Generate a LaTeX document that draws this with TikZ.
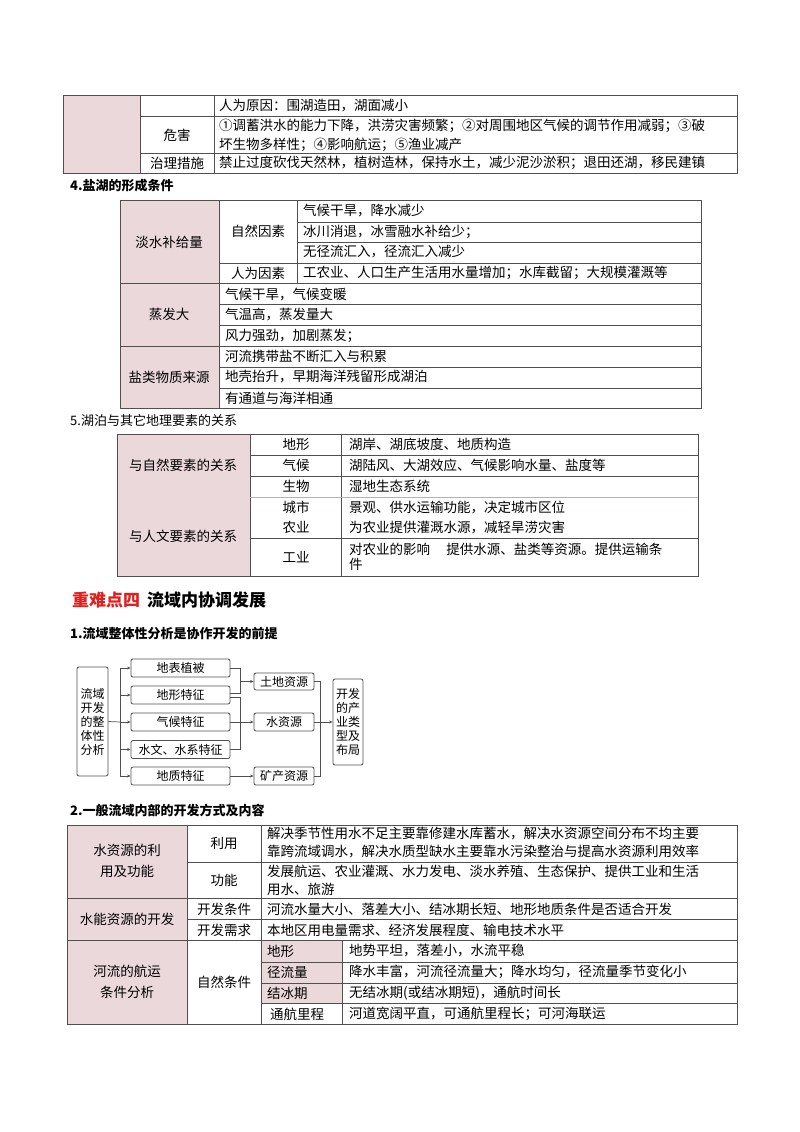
\documentclass[tikz,border=0pt]{standalone}
\usepackage{fontspec}
\setmainfont{Noto Sans CJK SC}
\usetikzlibrary{arrows.meta}
\definecolor{pk}{HTML}{EBD8DA}
\definecolor{ln}{HTML}{505050}
\definecolor{rd}{HTML}{E02020}
\tikzset{
 tb/.style={draw=ln,line width=0.9pt},
 tx/.style={anchor=west,inner sep=0pt,align=left,font=\fontsize{13.5}{16}\selectfont},
 tc/.style={anchor=center,inner sep=0pt,font=\fontsize{13.5}{16}\selectfont,align=center},
 hd/.style={anchor=west,inner sep=0pt,font=\fontsize{13}{15}\selectfont\bfseries},
 bx/.style={draw=ln,rounded corners=2pt,line width=0.8pt,fill=white,inner sep=0pt,font=\fontsize{12}{14}\selectfont,align=center},
 ar/.style={draw=ln,line width=0.7pt,-{Stealth[length=3.5pt,width=3pt]}},
 ln0/.style={draw=ln,line width=0.7pt}
}
\begin{document}
\begin{tikzpicture}[x=1pt,y=-1pt]
\useasboundingbox[fill=white] (0,0) rectangle (800,1132);
% ---- Table 0
\fill[pk] (63,95) rectangle (140,173);
\draw[tb] (63,95) rectangle (737,173);
\draw[tb] (140,95)--(140,173) (214,95)--(214,173) (140,116)--(737,116) (140,153)--(737,153);
\node[tx] (a1) at (219,106) {人为原因：围湖造田，湖面减小};
\node[tc] (a2) at (177,135) {危害};
\node[tx,font=\fontsize{13.5}{19}\selectfont] (a3) at (219,135) {①调蓄洪水的能力下降，洪涝灾害频繁；②对周围地区气候的调节作用减弱；③破\\坏生物多样性；④影响航运；⑤渔业减产};
\node[tc] (a4) at (177,163) {治理措施};
\node[tx] (a5) at (219,163) {禁止过度砍伐天然林，植树造林，保持水土，减少泥沙淤积；退田还湖，移民建镇};
% ---- heading 4
\node[hd] (h4) at (70,186) {4.盐湖的形成条件};
% ---- Table 1
\fill[pk] (120,200) rectangle (219,408);
\draw[tb] (120,200) rectangle (701,408);
\draw[tb] (219,200)--(219,408) (297,200)--(297,283);
\draw[tb] (297,222)--(701,222) (297,242)--(701,242) (219,263)--(701,263);
\draw[tb] (120,283)--(701,283) (219,304)--(701,304) (219,325)--(701,325);
\draw[tb] (120,346)--(701,346) (219,367)--(701,367) (219,388)--(701,388);
\node[tc] (b1) at (169,242) {淡水补给量};
\node[tc] (b2) at (258,231) {自然因素};
\node[tc] (b3) at (258,273) {人为因素};
\node[tx] (b4) at (303,211) {气候干旱，降水减少};
\node[tx] (b5) at (303,232) {冰川消退，冰雪融水补给少；};
\node[tx] (b6) at (303,252) {无径流汇入，径流汇入减少};
\node[tx] (b7) at (303,273) {工农业、人口生产生活用水量增加；水库截留；大规模灌溉等};
\node[tc] (b8) at (169,314) {蒸发大};
\node[tx] (b9) at (225,294) {气候干旱，气候变暖};
\node[tx] (b10) at (225,315) {气温高，蒸发量大};
\node[tx] (b11) at (225,336) {风力强劲，加剧蒸发；};
\node[tc] (b12) at (169,377) {盐类物质来源};
\node[tx] (b13) at (225,356) {河流携带盐不断汇入与积累};
\node[tx] (b14) at (225,377) {地壳抬升，早期海洋残留形成湖泊};
\node[tx] (b15) at (225,398) {有通道与海洋相通};
% ---- heading 5
\node[anchor=west,inner sep=0pt,font=\fontsize{13}{15}\selectfont] (h5) at (70,421) {5.湖泊与其它地理要素的关系};
% ---- Table 2
\fill[pk] (117,434) rectangle (250,576);
\draw[tb] (117,434) rectangle (698,576);
\draw[tb] (250,434)--(250,576) (341,434)--(341,576);
\draw[tb] (250,455)--(698,455) (250,476)--(698,476) (250,538)--(698,538);
\draw[draw=pk!70!ln,line width=0.8pt] (250,497)--(698,497);
\node[tc] (c1) at (183,465) {与自然要素的关系};
\node[tc] (c2) at (183,536) {与人文要素的关系};
\node[tc] (c3) at (296,444) {地形};
\node[tc] (c4) at (296,465) {气候};
\node[tc] (c5) at (296,486) {生物};
\node[tc] (c6) at (296,507) {城市};
\node[tc] (c7) at (296,527) {农业};
\node[tc] (c8) at (296,557) {工业};
\node[tx] (c9) at (349,444) {湖岸、湖底坡度、地质构造};
\node[tx] (c10) at (349,465) {湖陆风、大湖效应、气候影响水量、盐度等};
\node[tx] (c11) at (349,486) {湿地生态系统};
\node[tx] (c12) at (349,507) {景观、供水运输功能，决定城市区位};
\node[tx] (c13) at (349,527) {为农业提供灌溉水源，减轻旱涝灾害};
\node[tx,font=\fontsize{13.5}{15}\selectfont] (c14) at (349,557) {对农业的影响\hspace{1.2em}提供水源、盐类等资源。提供运输条\\件};
% ---- heading big
\node[anchor=west,inner sep=0pt,font=\fontsize{17}{20}\selectfont\bfseries] (h6) at (72,600) {\textcolor{rd}{重难点四}\hspace{0.4em}流域内协调发展};
\node[hd] (h7) at (70,634) {1.流域整体性分析是协作开发的前提};
% ---- flow diagram
\node[bx,minimum width=31pt,minimum height=109pt,text width=26pt] (L) at (92.5,721.5) {流域\\开发\\的整\\体性\\分析};
\node[bx,minimum width=99pt,minimum height=18pt] (p1) at (180.5,668) {地表植被};
\node[bx,minimum width=99pt,minimum height=18pt] (p2) at (180.5,695) {地形特征};
\node[bx,minimum width=99pt,minimum height=18pt] (p3) at (180.5,722) {气候特征};
\node[bx,minimum width=99pt,minimum height=18pt] (p4) at (180.5,749.5) {水文、水系特征};
\node[bx,minimum width=99pt,minimum height=18pt] (p5) at (180.5,776) {地质特征};
\node[bx,minimum width=60pt,minimum height=17pt] (q1) at (284,681.5) {土地资源};
\node[bx,minimum width=60pt,minimum height=18pt] (q2) at (284,722) {水资源};
\node[bx,minimum width=60pt,minimum height=18pt] (q3) at (284,776) {矿产资源};
\node[bx,minimum width=30pt,minimum height=86pt,text width=26pt] (R) at (348,722) {开发\\的产\\业类\\型及\\布局};
\coordinate (t0) at (120,668);
\coordinate (t1) at (120,776);
\draw[ln0] (L.east) -- (120,722);
\draw[ln0] (t0) -- (t1);
\draw[ar] (t0) -- (p1.west);
\draw[ar] (120,695) -- (p2.west);
\draw[ar] (120,722) -- (p3.west);
\draw[ar] (120,749.5) -- (p4.west);
\draw[ar] (t1) -- (p5.west);
\draw[ln0] (p1.east) -- ++(10,0) coordinate (u1) -- (u1 |- 0,693) coordinate (u2) -- (p2.east |- u2);
\draw[ar] (u1 |- q1) -- (q1.west);
\draw[ln0] (p2.east |- 0,697) -- (240,697) -- (240,749.5) -- (p4.east);
\draw[ar] (p3.east) -- (q2.west);
\draw[ar] (p5.east) -- (q3.west);
\draw[ln0] (q1.east) -- (320,681.5) -- (320,776) -- (q3.east);
\draw[ar] (q2.east) -- (R.west);
% ---- heading 2
\node[hd] (h8) at (70,810) {2.一般流域内部的开发方式及内容};
% ---- Table 3
\fill[pk] (67,825) rectangle (187,1024);
\fill[pk] (261,940) rectangle (342,1003);
\draw[tb] (67,825) rectangle (737,1024);
\draw[tb] (187,825)--(187,1024) (261,825)--(261,1024) (342,940)--(342,1024);
\draw[tb] (187,862)--(737,862) (67,898)--(737,898) (187,919)--(737,919) (67,940)--(737,940);
\draw[tb] (261,962)--(737,962) (261,983)--(737,983) (261,1003)--(737,1003);
\node[tc,font=\fontsize{13.5}{21}\selectfont] (d1) at (127,861) {水资源的利\\用及功能};
\node[tc] (d2) at (224,843) {利用};
\node[tc] (d3) at (224,880) {功能};
\node[tx,font=\fontsize{13.5}{18}\selectfont] (d4) at (267,843) {解决季节性用水不足主要靠修建水库蓄水，解决水资源空间分布不均主要\\靠跨流域调水，解决水质型缺水主要靠水污染整治与提高水资源利用效率};
\node[tx,font=\fontsize{13.5}{18}\selectfont] (d5) at (267,880) {发展航运、农业灌溉、水力发电、淡水养殖、生态保护、提供工业和生活\\用水、旅游};
\node[tc] (d6) at (127,919) {水能资源的开发};
\node[tc] (d7) at (224,909) {开发条件};
\node[tc] (d8) at (224,930) {开发需求};
\node[tx] (d9) at (267,909) {河流水量大小、落差大小、结冰期长短、地形地质条件是否适合开发};
\node[tx] (d10) at (267,930) {本地区用电量需求、经济发展程度、输电技术水平};
\node[tc,font=\fontsize{13.5}{21}\selectfont] (d11) at (127,982) {河流的航运\\条件分析};
\node[tc] (d12) at (224,982) {自然条件};
\node[tx] (d13) at (267,951) {地形};
\node[tx] (d14) at (267,972) {径流量};
\node[tx] (d15) at (267,993) {结冰期};
\node[tx] (d16) at (270,1014) {通航里程};
\node[tx] (d17) at (349,951) {地势平坦，落差小，水流平稳};
\node[tx] (d18) at (349,972) {降水丰富，河流径流量大；降水均匀，径流量季节变化小};
\node[tx] (d19) at (349,993) {无结冰期(或结冰期短)，通航时间长};
\node[tx] (d20) at (349,1014) {河道宽阔平直，可通航里程长；可河海联运};
\end{tikzpicture}
\end{document}
